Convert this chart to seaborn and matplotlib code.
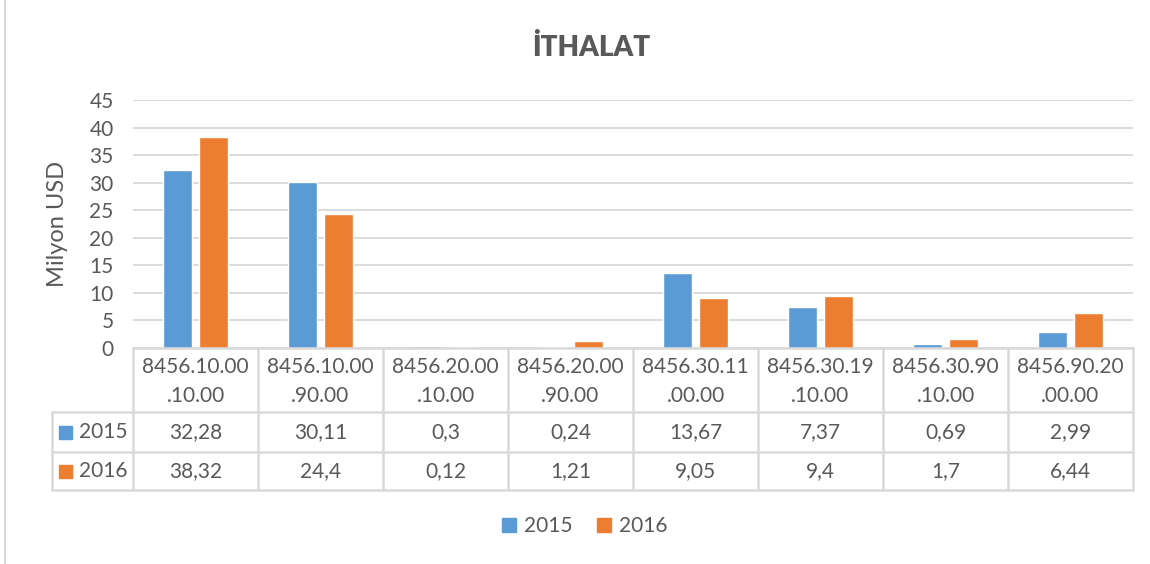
import pandas as pd
import matplotlib.pyplot as plt
import seaborn as sns
from matplotlib.patches import Rectangle

# veriler
kodlar = ["8456.10.00.10.00", "8456.10.00.90.00", "8456.20.00.10.00", "8456.20.00.90.00",
          "8456.30.11.00.00", "8456.30.19.10.00", "8456.30.90.10.00", "8456.90.20.00.00"]
yillar = ["2015", "2016"]
deger_2015 = [32.28, 30.11, 0.3, 0.24, 13.67, 7.37, 0.69, 2.99]
deger_2016 = [38.32, 24.4, 0.12, 1.21, 9.05, 9.4, 1.7, 6.44]
y_ticks = list(range(0, 46, 5))

renkler = {"2015": "#5B9BD5", "2016": "#ED7D31"}
GRI_YAZI = "#595959"
GRI_CIZGI = "#d9d9d9"

df = pd.DataFrame({
    "kod": kodlar * 2,
    "yil": [yillar[0]] * len(kodlar) + [yillar[1]] * len(kodlar),
    "deger": deger_2015 + deger_2016,
})

sns.set_style("white")
plt.rcParams["font.family"] = ["Lato", "DejaVu Sans"]

W, H = 1150, 564
FS = 15
fig = plt.figure(figsize=(W / 100, H / 100), dpi=100)

# grafik alanı (piksel cinsinden yerleşim)
x0, x1, y_top, y_base = 133, 1133, 100, 348
ax = fig.add_axes([x0 / W, 1 - y_base / H, (x1 - x0) / W, (y_base - y_top) / H])
sns.barplot(df, x="kod", y="deger", hue="yil", palette=renkler, saturation=1,
            width=0.576, gap=0.19, legend=False, ax=ax)
ax.set_xlim(-0.5, len(kodlar) - 0.5)
ax.set_ylim(0, 45)
ax.set_yticks(y_ticks)
ax.tick_params(axis="y", length=0, pad=14, labelsize=FS, labelcolor=GRI_YAZI)
ax.tick_params(axis="x", bottom=False, labelbottom=False)
ax.set_xlabel("")
ax.set_ylabel("Milyon USD", fontsize=17, color=GRI_YAZI)
ax.yaxis.set_label_coords(-(x0 - 68) / (x1 - x0), 0.5)
ax.yaxis.grid(True, color=GRI_CIZGI, lw=1.3)
ax.set_axisbelow(True)
sns.despine(ax=ax, left=True, bottom=True)

# veri tablosu
tax = fig.add_axes([0, 0, 1, 1])
tax.set_xlim(0, W)
tax.set_ylim(H, 0)
tax.axis("off")
tax.patch.set_visible(False)

cw = (x1 - x0) / len(kodlar)
y_h, y_r1, y_r2, y_end = 348, 412, 452, 490
x_lbl = 52
lw = 1.8
tax.plot([x0, x1], [y_h, y_h], color=GRI_CIZGI, lw=lw)
for yy in (y_r1, y_r2, y_end):
    tax.plot([x_lbl, x1], [yy, yy], color=GRI_CIZGI, lw=lw)
tax.plot([x_lbl, x_lbl], [y_r1, y_end], color=GRI_CIZGI, lw=lw)
for i in range(len(kodlar) + 1):
    xx = x0 + i * cw
    tax.plot([xx, xx], [y_h, y_end], color=GRI_CIZGI, lw=lw)

for i, kod in enumerate(kodlar):
    xc = x0 + (i + 0.5) * cw
    tax.text(xc, 367, kod[:10], ha="center", va="center", fontsize=FS, color=GRI_YAZI)
    tax.text(xc, 396, kod[10:], ha="center", va="center", fontsize=FS, color=GRI_YAZI)

satirlar = [(yillar[0], deger_2015, y_r1, y_r2), (yillar[1], deger_2016, y_r2, y_end)]
for yil, degerler, ya, yb in satirlar:
    yc = (ya + yb) / 2
    tax.add_patch(Rectangle((59, yc - 6.5), 13, 13, color=renkler[yil]))
    tax.text(79, yc, yil, ha="left", va="center", fontsize=FS, color=GRI_YAZI)
    for i, v in enumerate(degerler):
        xc = x0 + (i + 0.5) * cw
        tax.text(xc, yc, f"{v:g}".replace(".", ","), ha="center", va="center",
                 fontsize=FS, color=GRI_YAZI)

# dış çerçeve (sol kenar)
tax.plot([5, 5], [0, H], color=GRI_CIZGI, lw=1.5)

# başlık ve lejant
fig.text(591 / W, 1 - 47 / H, "İTHALAT", ha="center", va="center",
         fontsize=20, fontweight="heavy", color=GRI_YAZI)
handles = [Rectangle((0, 0), 1, 1, color=renkler[y]) for y in yillar]
fig.legend(handles, yillar, loc="center", bbox_to_anchor=(585 / W, 1 - 526 / H), ncol=2,
           frameon=False, fontsize=FS, labelcolor=GRI_YAZI, handlelength=0.65,
           handleheight=0.65, handletextpad=0.4, columnspacing=1.2)

fig.savefig("out.png", dpi=100)
